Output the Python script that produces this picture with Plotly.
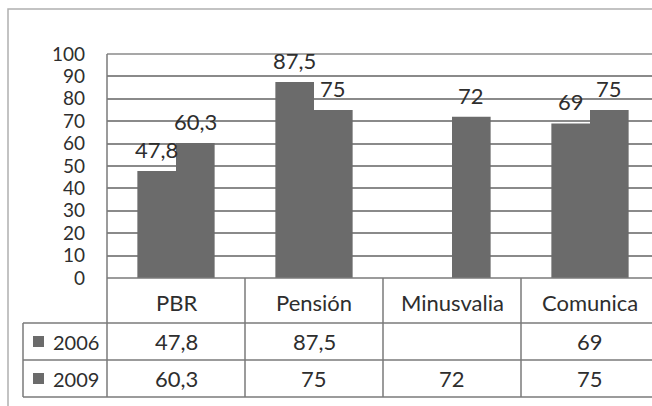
import plotly.graph_objects as go

categories = ["PBR", "Pensión", "Minusvalia", "Comunica"]
series_names = ["2006", "2009"]
values_2006 = [47.8, 87.5, None, 69]
values_2009 = [60.3, 75, 72, 75]
y_ticks = [0, 10, 20, 30, 40, 50, 60, 70, 80, 90, 100]

BAR = "#6b6b6b"
GRID = "#8a8a8a"
TXT = "#2e2e2e"
FONT = "Lato"
FS_TICK = 19
FS_LBL = 22
FS_CAT = 22
FS_VAL = 22
FS_NAME = 20

def fmt(v):
    if v is None:
        return ""
    s = ("%g" % v)
    return s.replace(".", ",")

xs = list(range(len(categories)))

fig = go.Figure()
for name, vals in zip(series_names, [values_2006, values_2009]):
    fig.add_trace(go.Bar(x=xs, y=vals, name=name, marker=dict(color=BAR, line=dict(width=0)),
                         showlegend=False))

# plot area in pixels: left 107, right 652, top 54, bottom 278
W, H = 652, 406
L, R, T, B = 107, 0, 54, 128
pw = W - L - R
ph = H - T - B

def py(ypix):
    return (278 - ypix) / ph

def px(xpix):
    return (xpix - L) / pw

cat_w = 138.0
x_right = -0.5 + pw / cat_w

fig.update_layout(
    width=W, height=H,
    margin=dict(l=L, r=R, t=T, b=B, pad=0),
    paper_bgcolor="white", plot_bgcolor="white",
    barmode="group", bargap=0.44, bargroupgap=0,
    font=dict(family=FONT, size=FS_TICK, color=TXT),
    xaxis=dict(range=[-0.5, x_right], showticklabels=False, showgrid=False,
               zeroline=False, showline=False, ticks=""),
    yaxis=dict(range=[0, 100], tickvals=y_ticks, showgrid=True, gridcolor=GRID, gridwidth=1.5,
               zeroline=False, showline=False, ticks="", ticklabelstandoff=21,
               tickfont=dict(family=FONT, size=FS_TICK, color=TXT)),
)

shapes = []
ann = []

shapes.append(dict(type="line", xref="paper", yref="paper", x0=0, x1=1, y0=1, y1=1,
                   line=dict(color=GRID, width=1.5)))
# outer border
shapes.append(dict(type="rect", xref="paper", yref="paper", x0=px(8), x1=px(700),
                   y0=py(420), y1=py(9), line=dict(color="#b0b0b0", width=1.5),
                   fillcolor="rgba(0,0,0,0)", layer="below"))

# data labels above bars
off = cat_w * 0.28 / 2
for vals, sh in [(values_2006, -off), (values_2009, off)]:
    for i, v in enumerate(vals):
        if v is None:
            continue
        ann.append(dict(x=i, y=v, xref="x", yref="y", text=fmt(v), showarrow=False,
                        xshift=sh, yanchor="bottom", yshift=6,
                        font=dict(family=FONT, size=FS_LBL, color=TXT)))

# data table
row_y = [278, 323, 360, 397]
tbl_left = 23
tcol = "#7a7a7a"
shapes.append(dict(type="line", xref="paper", yref="paper", x0=0, x1=0, y0=py(54), y1=py(397),
                   line=dict(color=tcol, width=1.5)))
shapes.append(dict(type="line", xref="paper", yref="paper", x0=0, x1=1.05, y0=py(278), y1=py(278),
                   line=dict(color=tcol, width=1.5)))
for yy in row_y[1:]:
    shapes.append(dict(type="line", xref="paper", yref="paper", x0=px(tbl_left), x1=1.05,
                       y0=py(yy), y1=py(yy), line=dict(color=tcol, width=1.5)))
shapes.append(dict(type="line", xref="paper", yref="paper", x0=px(tbl_left), x1=px(tbl_left),
                   y0=py(323), y1=py(397), line=dict(color=tcol, width=1.5)))
for i in range(len(categories)):
    shapes.append(dict(type="line", xref="x", yref="paper", x0=i + 0.5, x1=i + 0.5,
                       y0=py(278), y1=py(397), line=dict(color=tcol, width=1.5)))
for i, c in enumerate(categories):
    ann.append(dict(x=i, y=py(302), xref="x", yref="paper", text=c, showarrow=False,
                    yanchor="middle", font=dict(family=FONT, size=FS_CAT, color=TXT)))
for r, (name, vals) in enumerate(zip(series_names, [values_2006, values_2009])):
    yc = (row_y[r + 1] + row_y[r + 2]) / 2
    shapes.append(dict(type="rect", xref="paper", yref="paper", x0=px(33), x1=px(44),
                       y0=py(yc + 5.5), y1=py(yc - 5.5), fillcolor=BAR, line=dict(width=0)))
    ann.append(dict(x=px(101), y=py(yc), xref="paper", yref="paper", text=name, showarrow=False,
                    xanchor="right", yanchor="middle", font=dict(family=FONT, size=FS_NAME, color=TXT)))
    for i, v in enumerate(vals):
        ann.append(dict(x=i, y=py(yc), xref="x", yref="paper", text=fmt(v), showarrow=False,
                        yanchor="middle", font=dict(family=FONT, size=FS_VAL, color=TXT)))

fig.update_layout(shapes=shapes, annotations=ann)
fig.write_html("out.html")
